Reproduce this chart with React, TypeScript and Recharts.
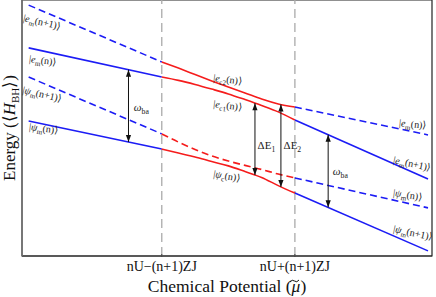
import { LineChart, Line, XAxis, YAxis, ReferenceLine, ReferenceDot, ReferenceArea } from "recharts"

// chemical potential sample points (the two marked ticks sit at -1 and +1)
const muLeft = [-3, -1]
const muRight = [1, 3]
const muMid = [-1, -0.75, -0.5, -0.25, 0, 0.25, 0.5, 0.75, 1]
const tickMu = [-1, 1]
const tickNames = ["nU\u2212(n+1)ZJ", "nU+(n+1)ZJ"]

// bare levels, left of the first crossing
const emN1Left = [9.8, 7.58]
const emNLeft = [8.13, 6.99]
const psiN1Left = [6.99, 4.77]
const psiNLeft = [5.27, 4.18]

// dressed levels between the two dashed markers
const ec2Mid = [7.58, 7.34, 7.09, 6.84, 6.6, 6.37, 6.13, 5.94, 5.82]
const ec1Mid = [6.99, 6.86, 6.7, 6.52, 6.33, 6.11, 5.88, 5.63, 5.31]
const psiDashMid = [4.77, 4.45, 4.16, 3.91, 3.71, 3.54, 3.38, 3.2, 3.05]
const psiCMid = [4.18, 4.02, 3.87, 3.69, 3.52, 3.3, 3.07, 2.75, 2.46]

// bare levels, right of the second crossing
const emNRight = [5.82, 4.73]
const emN1Right = [5.31, 3.01]
const psiNRight = [3.05, 1.88]
const psiN1Right = [2.46, 0.2]

// double-headed arrows: omega_ba, dE1, dE2, omega_ba
const arrowMu = [-1.5, 0.4, 0.79, 1.5]
const arrowTop = [7.28, 5.97, 5.92, 4.74]
const arrowBottom = [4.45, 3.16, 2.7, 1.9]

const BLUE = "#1c1cf5"
const RED = "#f51c1c"
const SERIF = "'Liberation Serif', 'Times New Roman', serif"

const pts = (xs: number[], ys: number[]) => xs.map((x, i) => ({ x, y: ys[i] }))

const segments = [
  { xs: muLeft, ys: emN1Left, color: BLUE, dashed: true },
  { xs: muLeft, ys: emNLeft, color: BLUE, dashed: false },
  { xs: muLeft, ys: psiN1Left, color: BLUE, dashed: true },
  { xs: muLeft, ys: psiNLeft, color: BLUE, dashed: false },
  { xs: muMid, ys: ec2Mid, color: RED, dashed: false },
  { xs: muMid, ys: ec1Mid, color: RED, dashed: false },
  { xs: muMid, ys: psiDashMid, color: RED, dashed: true },
  { xs: muMid, ys: psiCMid, color: RED, dashed: false },
  { xs: muRight, ys: emNRight, color: BLUE, dashed: true },
  { xs: muRight, ys: emN1Right, color: BLUE, dashed: false },
  { xs: muRight, ys: psiNRight, color: BLUE, dashed: true },
  { xs: muRight, ys: psiN1Right, color: BLUE, dashed: false },
]

type Note = { mu: number; e: number; angle: number; sym: string; sub: string; tail: string; italic: boolean; size: number }

const notes: Note[] = [
  { mu: -3.09, e: 9.18, angle: 13, sym: "e", sub: "m", tail: "(n+1)\u27E9", italic: true, size: 10 },
  { mu: -3.0, e: 7.58, angle: 7, sym: "e", sub: "m", tail: "(n)\u27E9", italic: true, size: 10 },
  { mu: -3.1, e: 6.37, angle: 13, sym: "\u03C8", sub: "m", tail: "(n+1)\u27E9", italic: true, size: 10 },
  { mu: -3.0, e: 4.92, angle: 7, sym: "\u03C8", sub: "m", tail: "(n)\u27E9", italic: true, size: 10 },
  { mu: -0.23, e: 6.84, angle: 7, sym: "e", sub: "c2", tail: "(n)\u27E9", italic: true, size: 10 },
  { mu: -0.23, e: 5.82, angle: 7, sym: "e", sub: "c1", tail: "(n)\u27E9", italic: true, size: 10 },
  { mu: -0.23, e: 3.09, angle: 10, sym: "\u03C8", sub: "c", tail: "(n)\u27E9", italic: true, size: 10 },
  { mu: 2.56, e: 5.08, angle: 6, sym: "e", sub: "m", tail: "(n)\u27E9", italic: true, size: 10 },
  { mu: 2.47, e: 3.63, angle: 12, sym: "e", sub: "m", tail: "(n+1)\u27E9", italic: true, size: 10 },
  { mu: 2.47, e: 2.34, angle: 8, sym: "\u03C8", sub: "m", tail: "(n)\u27E9", italic: true, size: 10 },
  { mu: 2.47, e: 0.94, angle: 12, sym: "\u03C8", sub: "m", tail: "(n+1)\u27E9", italic: true, size: 10 },
]

const marks: Note[] = [
  { mu: -1.42, e: 5.66, angle: 0, sym: "\u03C9", sub: "ba", tail: "", italic: true, size: 11 },
  { mu: 0.44, e: 4.18, angle: 0, sym: "\u0394E", sub: "1", tail: "", italic: false, size: 11 },
  { mu: 0.83, e: 4.18, angle: 0, sym: "\u0394E", sub: "2", tail: "", italic: false, size: 11 },
  { mu: 1.57, e: 3.16, angle: 0, sym: "\u03C9", sub: "ba", tail: "", italic: true, size: 11 },
]

function NoteText({ cx, cy, note, ket }: { cx: number; cy: number; note: Note; ket: boolean }) {
  const s = note.size
  return (
    <text
      x={cx}
      y={cy}
      transform={`rotate(${note.angle} ${cx} ${cy})`}
      fontFamily={SERIF}
      fontSize={s}
      fill="#222"
    >
      {ket ? "|" : ""}
      <tspan fontStyle={note.italic ? "italic" : "normal"}>{note.sym}</tspan>
      <tspan dy={s * 0.28} fontSize={s * 0.7}>
        {note.sub}
      </tspan>
      {note.tail ? <tspan dy={-s * 0.28}>{note.tail}</tspan> : null}
    </text>
  )
}

function ArrowHead(props: any) {
  const { cx, cy, index } = props
  if (cx == null || cy == null) return <g key={`a-${index}`} />
  const d = index === 0 ? 1 : -1
  return (
    <path
      key={`a-${index}-${cx}`}
      d={`M${cx},${cy} L${cx - 2.6},${cy + d * 7} L${cx + 2.6},${cy + d * 7} Z`}
      fill="#111"
      stroke="none"
    />
  )
}

function YTitle(props: any) {
  const vb = props.viewBox
  const x = vb.x + 15
  const y = vb.y + vb.height / 2
  return (
    <text x={x} y={y} transform={`rotate(-90 ${x} ${y})`} textAnchor="middle" fontFamily={SERIF} fontSize={17} fill="#111">
      Energy ({"\u27E8"}
      <tspan fontStyle="italic">H</tspan>
      <tspan dy={4} fontSize={11}>
        BH
      </tspan>
      <tspan dy={-4}>{"\u27E9"})</tspan>
    </text>
  )
}

function XTitle(props: any) {
  const vb = props.viewBox
  const cx = vb.x + vb.width / 2
  const base = vb.y + 36
  // tilde accent over the mu, drawn as a small wave
  const tx = cx + 63
  const ty = base - 10
  return (
    <g>
      <text x={cx} y={base} textAnchor="middle" fontFamily={SERIF} fontSize={17.5} fill="#111">
        Chemical Potential (<tspan fontStyle="italic">{"\u03BC"}</tspan>)
      </text>
      <path
        d={`M${tx},${ty} Q${tx + 2.2},${ty - 3} ${tx + 4.5},${ty - 1} T${tx + 9},${ty - 2}`}
        fill="none"
        stroke="#111"
        strokeWidth={1}
      />
    </g>
  )
}

function TinyTick(props: any) {
  const { x, y, payload } = props
  const label = tickNames[tickMu.indexOf(payload.value)] ?? ""
  return (
    <g>
      <line x1={x} x2={x} y1={y - 7} y2={y - 4} stroke="#444" strokeWidth={1} />
      <text x={x} y={y} dy="0.71em" textAnchor="middle" fontFamily={SERIF} fontSize={14} fill="#111">
        {label}
      </text>
    </g>
  )
}

export default function App() {
  return (
    <div style={{ position: "absolute", left: 0, top: 0, background: "#fff" }}>
      <LineChart width={436} height={297} margin={{ top: 0, right: 4, left: 0, bottom: 0 }}>
        <XAxis
          dataKey="x"
          type="number"
          domain={[-3.1, 3.06]}
          ticks={tickMu}
          tickLine={false}
          tickSize={3}
          height={41}
          allowDataOverflow
          axisLine={{ stroke: "#222", strokeWidth: 1.2 }}
          tick={TinyTick}
          label={{ content: XTitle }}
        />
        <YAxis
          type="number"
          domain={[0, 10]}
          width={22}
          tick={false}
          tickLine={false}
          allowDataOverflow
          axisLine={{ stroke: "#777", strokeWidth: 1.5 }}
          label={{ content: YTitle }}
        />
        <ReferenceArea x1={-3.1} x2={3.06} y1={0} y2={10} fill="none" stroke="#222" strokeWidth={1.2} />
        {tickMu.map((m) => (
          <ReferenceLine key={m} x={m} stroke="#aaa" strokeWidth={1.3} strokeDasharray="9 5" />
        ))}
        {segments.map((s, i) => (
          <Line
            key={`seg-${i}`}
            data={pts(s.xs, s.ys)}
            dataKey="y"
            type={s.xs.length > 2 ? "monotone" : "linear"}
            stroke={s.color}
            strokeWidth={1.6}
            strokeDasharray={s.dashed ? "7 4" : undefined}
            dot={false}
            activeDot={false}
            isAnimationActive={false}
          />
        ))}
        {arrowMu.map((m, i) => (
          <Line
            key={`arr-${i}`}
            data={[
              { x: m, y: arrowTop[i] },
              { x: m, y: arrowBottom[i] },
            ]}
            dataKey="y"
            type="linear"
            stroke="#111"
            strokeWidth={1}
            dot={ArrowHead}
            activeDot={false}
            isAnimationActive={false}
          />
        ))}
        {notes.map((n, i) => (
          <ReferenceDot
            key={`note-${i}`}
            x={n.mu}
            y={n.e}
            r={0}
            shape={(p: any) => <NoteText cx={p.cx} cy={p.cy} note={n} ket />}
          />
        ))}
        {marks.map((n, i) => (
          <ReferenceDot
            key={`mark-${i}`}
            x={n.mu}
            y={n.e}
            r={0}
            shape={(p: any) => <NoteText cx={p.cx} cy={p.cy} note={n} ket={false} />}
          />
        ))}
      </LineChart>
    </div>
  )
}
